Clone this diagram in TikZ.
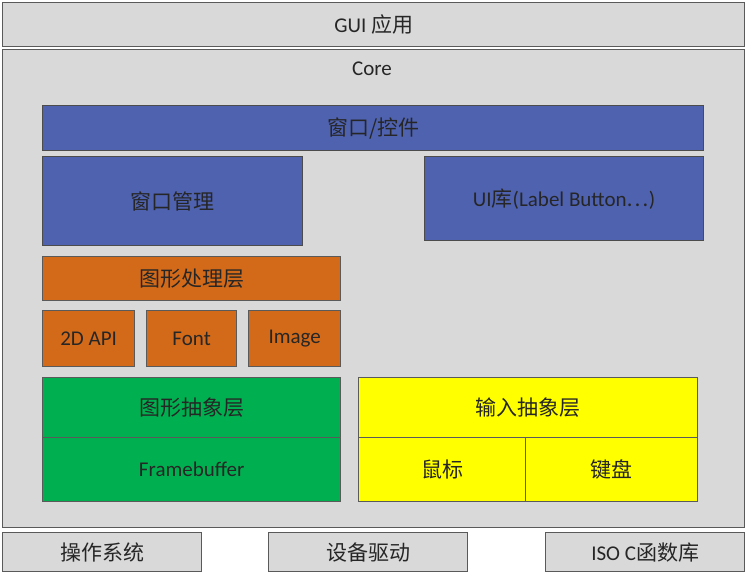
\documentclass[tikz,border=0pt]{standalone}
\usepackage{fontspec}
\setmainfont{Carlito}
\newfontfamily\cjk{Noto Sans CJK SC}
\usetikzlibrary{positioning}
\definecolor{boxgray}{RGB}{217,217,217}
\definecolor{winblue}{RGB}{79,98,176}
\definecolor{gfxorange}{RGB}{210,106,26}
\definecolor{absgreen}{RGB}{0,176,80}
\definecolor{inyellow}{RGB}{255,255,0}
\definecolor{edgegray}{RGB}{90,90,90}
\tikzset{
	box/.style={draw=edgegray, line width=1.3pt, anchor=north west, inner sep=0pt,
		text=black!85, font=\fontsize{21}{23}\selectfont},
	graybox/.style={box, fill=boxgray},
	bluebox/.style={box, fill=winblue, draw=black!70},
	orangebox/.style={box, fill=gfxorange},
	greenbox/.style={box, fill=absgreen},
	yellowbox/.style={box, fill=inyellow},
}
\begin{document}
\begin{tikzpicture}[x=1pt, y=-1pt]
	\useasboundingbox (0,0) rectangle (750,578);
	% top and core
	\node[graybox, minimum width=742pt, minimum height=44pt] (gui) at (2,2) {GUI {\cjk 应用}};
	\node[graybox, minimum width=742pt, minimum height=478pt] (core) at (2,49) {};
	\node[font=\fontsize{21}{23}\selectfont, text=black!85] (coretitle) at (372,69) {Core};
	
	% window layer
	\node[bluebox, minimum width=661pt, minimum height=45pt] (widget) at (42,105) {{\cjk 窗口/控件}};
	\node[bluebox, minimum width=260pt, minimum height=89pt] (winmgr) at (42,156) {{\cjk 窗口管理}};
	\node[bluebox, minimum width=279pt, minimum height=84pt] (uilib) at (424,156) {UI{\cjk 库}(Label Button{\cjk …})};
	
	% graphics
	\node[orangebox, minimum width=298pt, minimum height=44pt] (gfx) at (42,256) {{\cjk 图形处理层}};
	\node[orangebox, minimum width=92pt, minimum height=56pt] (api2d) at (42,310) {2D API};
	\node[orangebox, minimum width=90pt, minimum height=56pt] (font) at (146,310) {Font};
	\node[orangebox, minimum width=92pt, minimum height=56pt] (image) at (248,310) {Image};
	
	% abstraction layers
	\node[greenbox, minimum width=298pt, minimum height=60pt] (gfxabs) at (42,377) {{\cjk 图形抽象层}};
	\node[greenbox, minimum width=298pt, minimum height=64pt] (fb) at (42,437) {Framebuffer};
	\node[yellowbox, minimum width=339pt, minimum height=60pt] (inabs) at (358,377) {{\cjk 输入抽象层}};
	\node[yellowbox, minimum width=167pt, minimum height=64pt] (mouse) at (358,437) {{\cjk 鼠标}};
	\node[yellowbox, minimum width=172pt, minimum height=64pt] (keyb) at (525,437) {{\cjk 键盘}};
	
	% bottom
	\node[graybox, minimum width=199pt, minimum height=39pt] (os) at (2,532) {{\cjk 操作系统}};
	\node[graybox, minimum width=199pt, minimum height=39pt] (drv) at (268,532) {{\cjk 设备驱动}};
	\node[graybox, minimum width=199pt, minimum height=39pt] (libc) at (545,532) {ISO C{\cjk 函数库}};
\end{tikzpicture}
\end{document}
